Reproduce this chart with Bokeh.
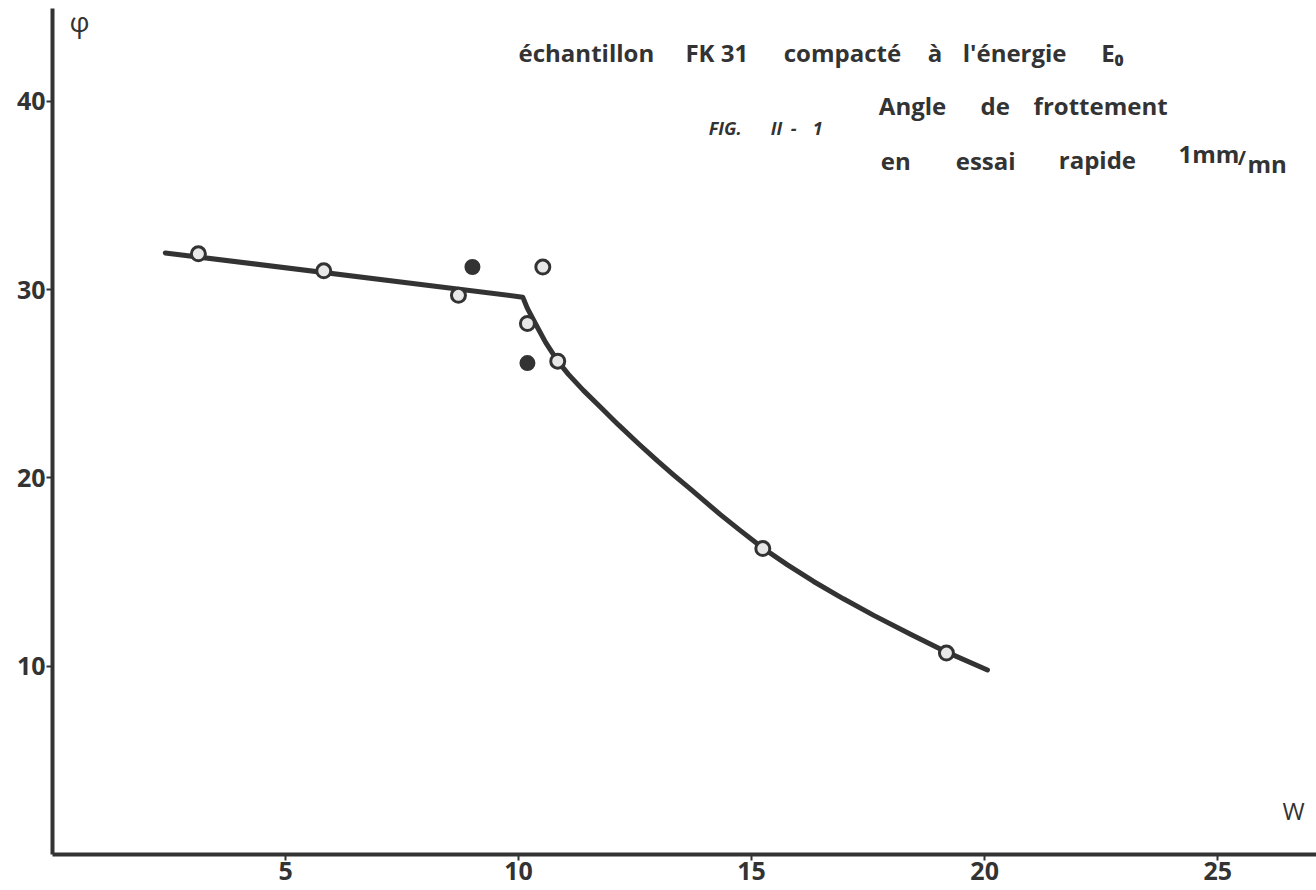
from bokeh.plotting import figure
from bokeh.models import Range1d, FixedTicker
from bokeh.core.properties import value
from bokeh.embed import file_html
from bokeh.resources import INLINE

# Curve (hand-drawn fit)
curve_w = [2.42, 10.09, 10.19, 10.36, 10.58, 10.84, 11.07, 11.39, 11.76, 12.15, 12.58, 12.98, 13.33,
           13.69, 14.33, 14.76, 15.24, 15.77, 16.33, 16.97, 17.62, 18.41, 19.21, 20.06]
curve_phi = [31.95, 29.6, 29.0, 28.2, 27.2, 26.2, 25.5, 24.65, 23.75, 22.8, 21.8, 20.9, 20.15,
             19.4, 18.05, 17.2, 16.28, 15.38, 14.5, 13.58, 12.7, 11.7, 10.72, 9.8]

# Measured points
open_w = [3.13, 5.82, 8.71, 10.52, 10.19, 10.84, 15.24, 19.18]
open_phi = [31.9, 31.0, 29.7, 31.2, 28.2, 26.2, 16.25, 10.7]
filled_w = [9.01, 10.19]
filled_phi = [31.2, 26.1]

x_ticks = [5, 10, 15, 20, 25]
y_ticks = [10, 20, 30, 40]

INK = "#333333"
FONT = "Open Sans"

p = figure(width=1316, height=890, output_backend="svg", toolbar_location=None,
           x_range=Range1d(0, 27.12), y_range=Range1d(0, 44.93),
           min_border_left=52, min_border_bottom=36, min_border_top=8, min_border_right=0)
p.outline_line_color = None
p.xgrid.visible = False
p.ygrid.visible = False
p.background_fill_color = "white"
p.border_fill_color = "white"

for ax, ticks in ((p.xaxis[0], x_ticks), (p.yaxis[0], y_ticks)):
    ax.ticker = FixedTicker(ticks=ticks)
    ax.axis_line_width = 4
    ax.axis_line_color = INK
    ax.major_tick_line_color = INK
    ax.major_tick_line_width = 2
    ax.major_tick_out = 6
    ax.major_tick_in = 0
    ax.minor_tick_line_color = None
    ax.major_label_text_font = FONT
    ax.major_label_text_font_size = "25px"
    ax.major_label_text_font_style = "bold"
    ax.major_label_text_color = INK
    ax.major_label_standoff = 1

p.line(curve_w, curve_phi, line_width=5, line_color=INK, line_cap="round", line_join="round")
p.scatter(open_w, open_phi, size=14, marker="circle", fill_color="#e8e8e8",
          line_color=INK, line_width=3)
p.scatter(filled_w, filled_phi, size=14, marker="circle", fill_color=INK,
          line_color=INK, line_width=2)

def txt(x, y, s, size="24px", style="bold", align="left", baseline="alphabetic"):
    p.text(x=[x], y=[y], text=[s], text_font=value(FONT), text_font_size=size,
           text_font_style=style, text_color=INK, text_align=align,
           text_baseline=baseline)

txt(0.58, 44.29, "φ", size="28px", style="normal", align="center", baseline="middle")
txt(26.63, 2.34, "W", size="24px", style="normal", align="center", baseline="middle")

# line 1
txt(10.00, 42.59, "échantillon")
txt(13.58, 42.59, "FK\u00a031")
txt(15.69, 42.59, "compacté")
txt(18.78, 42.59, "à")
txt(19.53, 42.59, "l'énergie")
txt(22.50, 42.59, "E₀")
# line 2
txt(17.73, 39.78, "Angle")
txt(19.91, 39.78, "de")
txt(21.05, 39.78, "frottement")
# figure number
txt(14.08, 38.56, "FIG.", size="18px", style="bold italic")
txt(15.41, 38.56, "II", size="18px", style="bold italic")
txt(15.84, 38.56, "-", size="18px", style="bold italic")
txt(16.31, 38.56, "1", size="18px", style="bold italic")
# line 3
txt(17.77, 36.86, "en")
txt(19.38, 36.86, "essai")
txt(21.59, 36.90, "rapide")
txt(24.16, 37.23, "1mm")
txt(25.43, 37.02, "/", size="20px")
txt(25.64, 36.70, "mn")

open("out.html", "w").write(file_html(p, INLINE))
